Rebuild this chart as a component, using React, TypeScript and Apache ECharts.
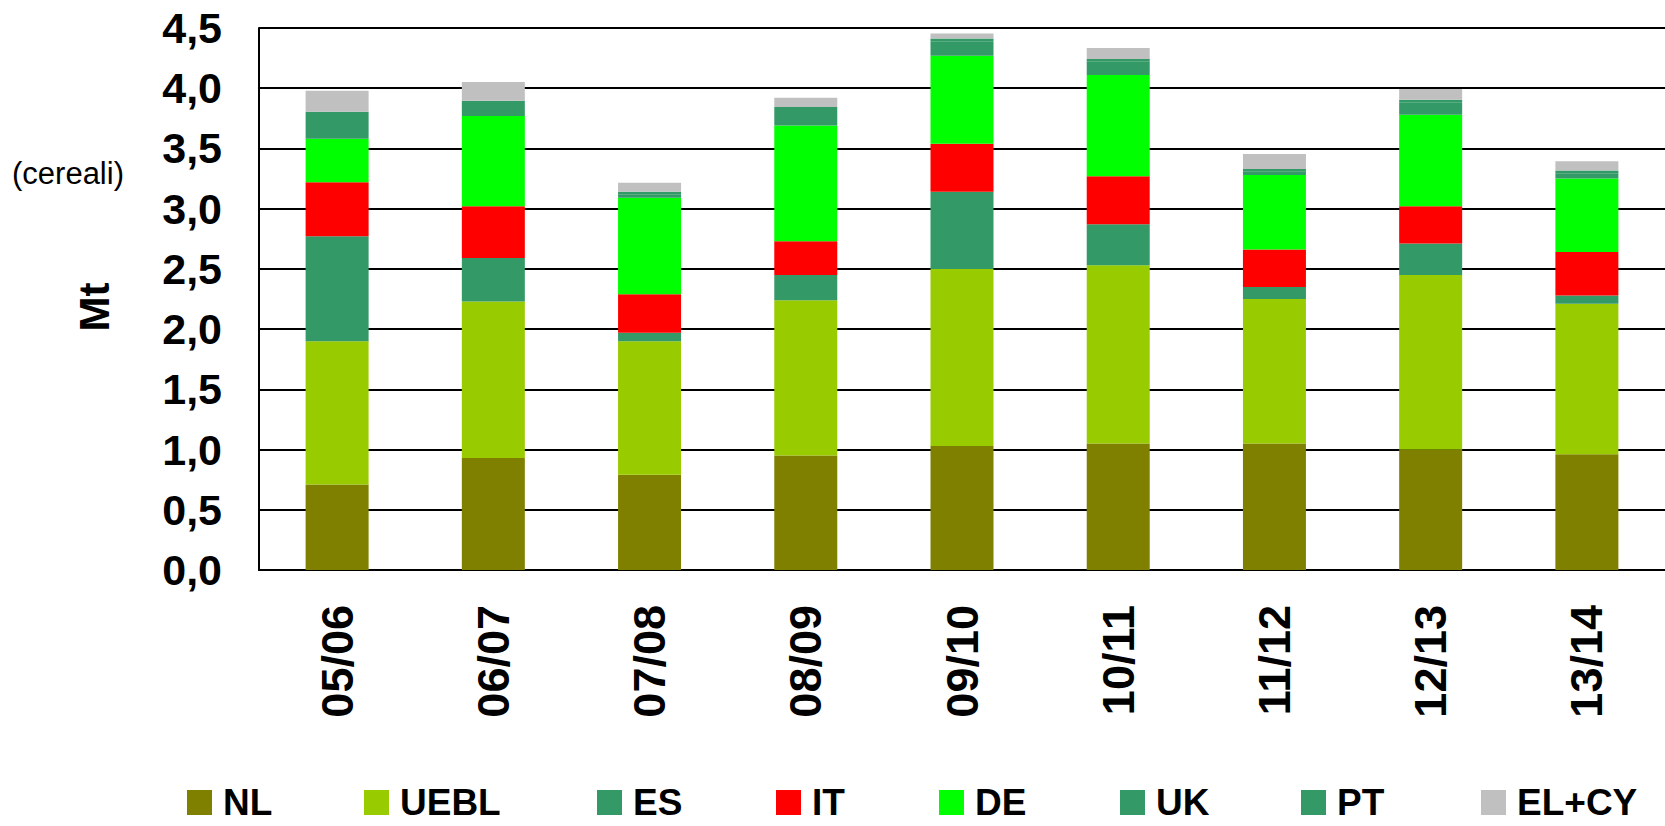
import React, { useEffect, useRef } from "react";
import * as echarts from "echarts";

const categories = ["05/06", "06/07", "07/08", "08/09", "09/10", "10/11", "11/12", "12/13", "13/14"];
const nl = [0.71, 0.93, 0.79, 0.95, 1.03, 1.05, 1.05, 1.0, 0.96];
const uebl = [1.19, 1.3, 1.11, 1.29, 1.47, 1.48, 1.2, 1.45, 1.25];
const es = [0.87, 0.36, 0.07, 0.21, 0.64, 0.34, 0.1, 0.26, 0.07];
const it = [0.45, 0.43, 0.32, 0.28, 0.4, 0.4, 0.31, 0.31, 0.36];
const de = [0.36, 0.75, 0.8, 0.96, 0.73, 0.84, 0.62, 0.76, 0.61];
const uk = [0.19, 0.1, 0.03, 0.13, 0.12, 0.11, 0.03, 0.1, 0.045];
const pt = [0.034, 0.025, 0.02, 0.024, 0.022, 0.023, 0.02, 0.024, 0.021];
const elcy = [0.175, 0.157, 0.075, 0.076, 0.042, 0.091, 0.124, 0.089, 0.077];

const seriesDefs = [
  { name: "NL", data: nl, color: "#808000" },
  { name: "UEBL", data: uebl, color: "#99CC00" },
  { name: "ES", data: es, color: "#339966" },
  { name: "IT", data: it, color: "#FF0000" },
  { name: "DE", data: de, color: "#00FF00" },
  { name: "UK", data: uk, color: "#339966" },
  { name: "PT", data: pt, color: "#339966" },
  { name: "EL+CY", data: elcy, color: "#C0C0C0" },
];

// layout: left edge of each legend marker (px)
const legendLefts = [187, 364, 597, 776, 939, 1120, 1301, 1481];

const FONT = "'Liberation Sans', Arial, sans-serif";

export default function App() {
  const ref = useRef<HTMLDivElement>(null);
  useEffect(() => {
    if (!ref.current) return;
    const chart = echarts.init(ref.current, null, { renderer: "svg" });
    chart.setOption({
      animation: false,
      backgroundColor: "#ffffff",
      grid: { left: 259, top: 28, width: 1416, height: 542, containLabel: false },
      legend: seriesDefs.map((s, i) => ({
        left: legendLefts[i],
        top: 784,
        itemWidth: 25,
        itemHeight: 25,
        icon: "rect",
        padding: 0,
        textStyle: {
          fontFamily: FONT,
          fontWeight: "bold",
          fontSize: 37,
          lineHeight: 37,
          color: "#000",
          padding: [0, 0, 0, 6],
        },
        data: [s.name],
      })),
      xAxis: {
        type: "category",
        data: categories,
        axisLine: { show: true, lineStyle: { color: "#000", width: 2 } },
        axisTick: { show: false },
        axisLabel: {
          rotate: 90,
          margin: 35,
          fontFamily: FONT,
          fontWeight: "bold",
          fontSize: 45,
          color: "#000",
        },
      },
      yAxis: {
        type: "value",
        min: 0,
        max: 4.5,
        interval: 0.5,
        axisLine: { show: true, lineStyle: { color: "#000", width: 2 } },
        axisTick: { show: false },
        splitLine: { show: true, lineStyle: { color: "#000", width: 2 } },
        axisLabel: {
          margin: 37,
          fontFamily: FONT,
          fontWeight: "bold",
          fontSize: 43,
          color: "#000",
          formatter: (v: number) => v.toFixed(1).replace(".", ","),
        },
      },
      graphic: [
        {
          type: "text",
          left: 12,
          top: 158,
          style: { text: "(cereali)", fontFamily: FONT, fontSize: 31, fill: "#000" },
        },
        {
          type: "text",
          x: 94,
          y: 307,
          rotation: Math.PI / 2,
          style: {
            text: "Mt",
            fontFamily: FONT,
            fontWeight: "bold",
            fontSize: 42,
            fill: "#000",
            align: "center",
            verticalAlign: "middle",
          },
        },
      ],
      series: seriesDefs.map((s) => ({
        name: s.name,
        type: "bar",
        stack: "total",
        barWidth: 63,
        data: s.data,
        itemStyle: { color: s.color },
      })),
    });
    return () => chart.dispose();
  }, []);
  return (
    <div
      ref={ref}
      style={{ position: "fixed", left: 0, top: 0, width: 1665, height: 826, overflow: "hidden" }}
    />
  );
}
